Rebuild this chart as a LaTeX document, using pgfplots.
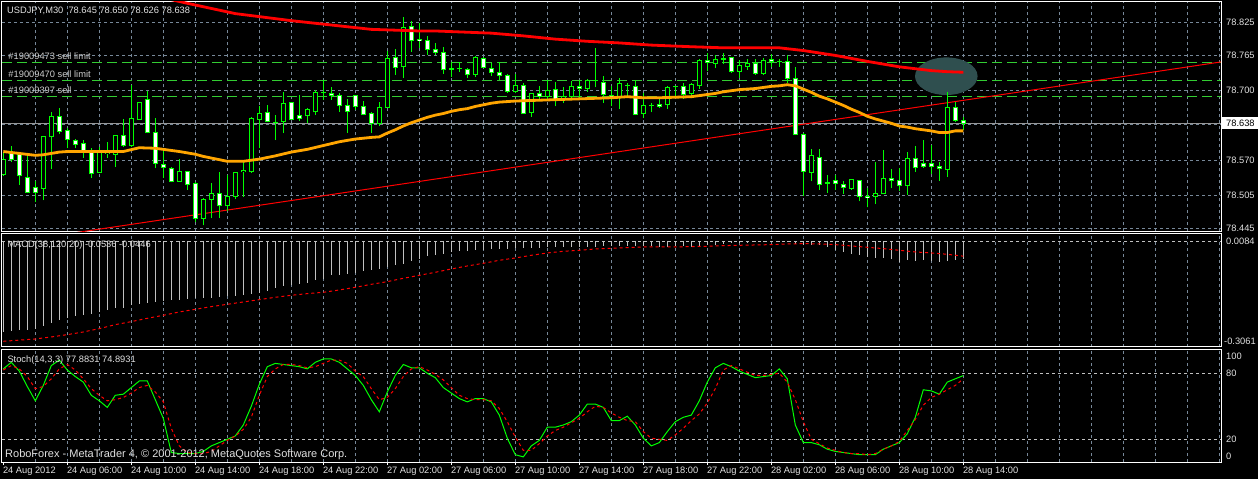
\documentclass[border=0pt]{standalone}
\usepackage{fontspec}
\setmainfont{Liberation Sans}
\usepackage{pgfplots}
\pgfplotsset{compat=1.18}
\usepackage{pgfplotstable}

\definecolor{gridc}{RGB}{119,136,153}
\definecolor{cgreen}{RGB}{0,255,0}
\definecolor{ordgreen}{RGB}{50,205,50}
\definecolor{maor}{RGB}{255,165,0}
\definecolor{histc}{RGB}{192,192,192}
\definecolor{ellc}{RGB}{47,79,79}
\definecolor{levelc}{RGB}{192,192,192}
\definecolor{curc}{RGB}{150,150,150}
\definecolor{txtc}{RGB}{225,225,225}
\definecolor{ordtxt}{RGB}{205,205,205}

\newcommand{\mtf}{\fontsize{9.3pt}{11pt}\selectfont}

\pgfplotstableread{
i o h l c
0 78.544 78.587 78.542 78.573
1 78.584 78.597 78.568 78.573
2 78.582 78.584 78.525 78.542
3 78.539 78.581 78.511 78.512
4 78.521 78.532 78.494 78.512
5 78.519 78.616 78.497 78.614
6 78.614 78.659 78.554 78.652
7 78.652 78.668 78.619 78.624
8 78.625 78.630 78.593 78.610
9 78.608 78.610 78.593 78.600
10 78.602 78.608 78.576 78.587
11 78.587 78.593 78.538 78.547
12 78.548 78.596 78.547 78.587
13 78.584 78.604 78.576 78.586
14 78.582 78.618 78.559 78.616
15 78.617 78.647 78.596 78.598
16 78.598 78.710 78.596 78.647
17 78.646 78.679 78.645 78.678
18 78.683 78.699 78.621 78.622
19 78.622 78.648 78.556 78.565
20 78.563 78.593 78.538 78.558
21 78.556 78.559 78.530 78.532
22 78.532 78.573 78.531 78.551
23 78.551 78.552 78.517 78.527
24 78.529 78.530 78.458 78.464
25 78.464 78.501 78.451 78.499
26 78.499 78.529 78.464 78.510
27 78.510 78.549 78.464 78.487
28 78.487 78.544 78.478 78.505
29 78.505 78.550 78.499 78.549
30 78.550 78.568 78.504 78.552
31 78.550 78.650 78.548 78.648
32 78.646 78.671 78.593 78.657
33 78.659 78.673 78.641 78.642
34 78.641 78.654 78.608 78.640
35 78.642 78.696 78.621 78.676
36 78.678 78.679 78.645 78.646
37 78.654 78.691 78.644 78.648
38 78.653 78.667 78.640 78.664
39 78.660 78.700 78.654 78.696
40 78.695 78.719 78.682 78.696
41 78.694 78.705 78.682 78.690
42 78.690 78.694 78.660 78.672
43 78.672 78.683 78.622 78.661
44 78.690 78.692 78.664 78.670
45 78.670 78.680 78.654 78.655
46 78.657 78.659 78.621 78.639
47 78.638 78.678 78.634 78.668
48 78.668 78.773 78.668 78.759
49 78.761 78.775 78.728 78.742
50 78.743 78.834 78.723 78.816
51 78.817 78.828 78.771 78.792
52 78.794 78.824 78.777 78.792
53 78.791 78.800 78.765 78.775
54 78.775 78.786 78.765 78.770
55 78.770 78.780 78.730 78.738
56 78.740 78.751 78.725 78.738
57 78.739 78.751 78.734 78.739
58 78.738 78.740 78.722 78.728
59 78.729 78.763 78.725 78.761
60 78.758 78.761 78.740 78.742
61 78.740 78.750 78.726 78.733
62 78.733 78.751 78.719 78.727
63 78.727 78.730 78.695 78.698
64 78.697 78.730 78.695 78.709
65 78.708 78.713 78.656 78.657
66 78.659 78.695 78.651 78.694
67 78.694 78.708 78.684 78.689
68 78.688 78.719 78.684 78.700
69 78.701 78.715 78.670 78.683
70 78.683 78.705 78.676 78.688
71 78.688 78.716 78.684 78.707
72 78.707 78.719 78.683 78.703
73 78.703 78.720 78.697 78.718
74 78.718 78.777 78.705 78.717
75 78.715 78.727 78.677 78.692
76 78.691 78.708 78.670 78.687
77 78.688 78.722 78.665 78.713
78 78.708 78.714 78.688 78.709
79 78.707 78.718 78.654 78.655
80 78.657 78.694 78.648 78.671
81 78.671 78.677 78.659 78.672
82 78.674 78.684 78.668 78.670
83 78.673 78.708 78.666 78.705
84 78.706 78.708 78.688 78.707
85 78.707 78.714 78.684 78.692
86 78.694 78.713 78.685 78.711
87 78.708 78.757 78.703 78.754
88 78.755 78.768 78.735 78.751
89 78.750 78.765 78.740 78.757
90 78.757 78.768 78.748 78.759
91 78.761 78.762 78.732 78.735
92 78.735 78.756 78.722 78.745
93 78.743 78.757 78.738 78.750
94 78.750 78.757 78.728 78.731
95 78.731 78.760 78.728 78.755
96 78.757 78.766 78.743 78.753
97 78.753 78.757 78.743 78.753
98 78.753 78.765 78.713 78.721
99 78.721 78.742 78.619 78.619
100 78.619 78.621 78.505 78.550
101 78.549 78.592 78.532 78.579
102 78.576 78.592 78.517 78.527
103 78.530 78.544 78.511 78.529
104 78.533 78.543 78.516 78.529
105 78.527 78.532 78.509 78.521
106 78.519 78.536 78.517 78.535
107 78.534 78.535 78.495 78.504
108 78.505 78.519 78.484 78.503
109 78.504 78.567 78.490 78.509
110 78.509 78.590 78.508 78.537
111 78.538 78.555 78.519 78.533
112 78.533 78.557 78.515 78.524
113 78.524 78.586 78.507 78.575
114 78.575 78.597 78.550 78.557
115 78.565 78.608 78.557 78.559
116 78.565 78.599 78.546 78.559
117 78.560 78.567 78.533 78.555
118 78.554 78.697 78.541 78.668
119 78.668 78.679 78.642 78.644
120 78.645 78.650 78.626 78.638
}\candles

\pgfplotstableread{
i v
0 78.587
4 78.580
5 78.581
7 78.586
8 78.587
12 78.587
15 78.587
17 78.594
19 78.593
20 78.591
22 78.587
24 78.582
25 78.578
28 78.569
30 78.569
32 78.573
34 78.579
36 78.586
38 78.591
40 78.598
42 78.605
44 78.610
46 78.613
47 78.614
48 78.621
49 78.627
50 78.634
51 78.640
52 78.645
53 78.650
54 78.654
55 78.657
56 78.661
57 78.664
58 78.666
59 78.670
60 78.673
61 78.676
62 78.678
64 78.680
66 78.681
68 78.682
70 78.683
72 78.684
74 78.685
76 78.686
78 78.688
80 78.686
82 78.686
84 78.687
86 78.688
87 78.690
88 78.692
89 78.694
90 78.697
91 78.699
92 78.701
94 78.703
96 78.707
97 78.708
98 78.710
99 78.708
100 78.702
101 78.696
102 78.689
103 78.684
104 78.678
105 78.672
106 78.665
107 78.659
108 78.652
109 78.647
110 78.643
111 78.639
112 78.634
113 78.632
114 78.629
115 78.627
116 78.625
117 78.622
118 78.622
119 78.625
120 78.625
}\maorange

\pgfplotstableread{
i v
20 78.870
23 78.860
29 78.841
36 78.828
41 78.820
46 78.812
52 78.809
54 78.809
61 78.805
65 78.800
69 78.794
73 78.790
77 78.787
81 78.783
86 78.780
90 78.778
97 78.778
100 78.773
104 78.764
108 78.753
112 78.743
116 78.736
118 78.734
120 78.733
}\mared

\pgfplotstableread{
i h
0 -0.272
1 -0.269
2 -0.267
3 -0.265
4 -0.262
5 -0.255
6 -0.244
7 -0.237
8 -0.230
9 -0.225
10 -0.222
11 -0.217
12 -0.212
13 -0.207
14 -0.200
15 -0.200
16 -0.192
17 -0.187
18 -0.184
19 -0.182
20 -0.179
21 -0.177
22 -0.175
23 -0.172
24 -0.171
25 -0.169
26 -0.169
27 -0.167
28 -0.164
29 -0.164
30 -0.162
31 -0.157
32 -0.154
33 -0.149
34 -0.139
35 -0.135
36 -0.132
37 -0.127
38 -0.124
39 -0.115
40 -0.112
41 -0.102
42 -0.100
43 -0.097
44 -0.094
45 -0.090
46 -0.087
47 -0.082
48 -0.077
49 -0.072
50 -0.067
51 -0.060
52 -0.052
53 -0.044
54 -0.042
55 -0.037
56 -0.032
57 -0.030
58 -0.030
59 -0.026
60 -0.025
61 -0.024
62 -0.023
63 -0.022
64 -0.021
65 -0.020
66 -0.020
67 -0.019
68 -0.018
69 -0.017
70 -0.017
71 -0.018
72 -0.017
73 -0.016
74 -0.016
75 -0.015
76 -0.015
77 -0.015
78 -0.015
79 -0.015
80 -0.015
81 -0.015
82 -0.017
83 -0.017
84 -0.015
85 -0.015
86 -0.017
87 -0.015
88 -0.012
89 -0.010
90 -0.008
91 -0.006
92 -0.005
93 -0.004
94 -0.003
95 -0.003
96 -0.002
97 -0.002
98 -0.003
99 -0.007
100 -0.010
101 -0.010
102 -0.012
103 -0.017
104 -0.027
105 -0.032
106 -0.037
107 -0.040
108 -0.047
109 -0.050
110 -0.050
111 -0.052
112 -0.062
113 -0.057
114 -0.060
115 -0.057
116 -0.060
117 -0.062
118 -0.060
119 -0.057
120 -0.0536
}\macd

\pgfplotstableread{
i s
0 -0.300
4 -0.293
6 -0.287
8 -0.280
10 -0.272
12 -0.262
14 -0.250
16 -0.241
18 -0.231
20 -0.222
22 -0.212
24 -0.204
26 -0.196
28 -0.189
30 -0.182
32 -0.175
34 -0.168
36 -0.162
38 -0.157
40 -0.153
42 -0.146
44 -0.138
46 -0.129
48 -0.121
50 -0.111
52 -0.102
54 -0.093
56 -0.083
58 -0.074
60 -0.066
62 -0.057
64 -0.050
66 -0.042
68 -0.035
70 -0.030
72 -0.027
74 -0.023
76 -0.021
78 -0.019
80 -0.017
82 -0.017
84 -0.017
86 -0.016
88 -0.015
90 -0.013
92 -0.012
94 -0.011
96 -0.010
98 -0.008
100 -0.007
102 -0.008
104 -0.010
106 -0.014
108 -0.018
110 -0.022
112 -0.027
114 -0.032
116 -0.035
118 -0.039
120 -0.0446
}\signal

\pgfplotstableread{
i k d
0 84 83
1 90 87
2 82 84
3 68 77
4 55 66
5 69 68
6 87 75
7 92 84
8 83 88
9 77 83
10 72 75
11 60 66
12 55 60
13 49 55
14 60 56
15 61 58
16 67 62
17 73 67
18 73 69
19 56 63
20 39 54
21 8 30
22 7 14
23 7 8
24 7 7
25 9 7
26 14 9
27 17 14
28 20 19
29 23 23
30 33 29
31 50 40
32 70 60
33 86 77
34 89 84
35 88 88
36 87 88
37 86 87
38 84 85
39 90 86
40 93 89
41 93 92
42 90 92
43 84 89
44 78 82
45 69 77
46 56 66
47 45 56
48 63 58
49 78 66
50 88 77
51 85 84
52 85 86
53 80 83
54 76 79
55 67 74
56 62 67
57 57 60
58 54 57
59 57 56
60 57 56
61 54 55
62 42 48
63 21 36
64 6 22
65 4 10
66 14 10
67 19 16
68 31 23
69 31 28
70 33 31
71 36 35
72 42 39
73 52 45
74 52 50
75 49 49
76 37 44
77 37 40
78 41 37
79 33 36
80 21 27
81 14 21
82 17 20
83 27 19
84 36 24
85 40 30
86 42 37
87 55 43
88 72 53
89 85 66
90 89 83
91 86 87
92 82 84
93 79 81
94 76 78
95 77 78
96 78 79
97 84 80
98 75 72
99 33 56
100 17 36
101 17 20
102 15 16
103 11 12
104 9 10
105 8 8
106 7 7
107 6 7
108 6 6
109 6 7
110 11 11
111 14 14
112 17 18
113 25 28
114 40 38
115 65 51
116 64 58
117 61 61
118 72 65
119 75 69
120 77.88 74.89
}\stoch

\pgfplotsset{
  mtaxis/.style={
    scale only axis, width=1219pt, anchor=south west,
    xmin=-0.1625, xmax=152.2125,
    axis line style={white, line width=1pt},
    xtick={4,8,...,152}, xticklabels={}, yticklabels={},
    xtick style={draw=none}, ytick style={draw=none},
    xmajorgrids,
    major x grid style={draw=gridc, line width=1pt, dash pattern=on 3pt off 3pt},
  }
}

\begin{document}
\begin{tikzpicture}
\path[use as bounding box] (0pt,0pt) rectangle (1258pt,479pt);
\fill[black] (0pt,0pt) rectangle (1258pt,479pt);

% ---------------- main price panel ----------------
\begin{axis}[mtaxis, at={(2pt,247.5pt)}, height=229.5pt,
  ymin=78.43973, ymax=78.86238,
  ytick={78.4449,78.5064,78.5709,78.6372,78.6998,78.7642,78.825},
  ymajorgrids,
  major y grid style={draw=gridc, line width=1pt, dash pattern=on 3pt off 3pt}]
  % pending order levels
  \addplot[ordgreen, line width=1pt, dash pattern=on 10pt off 5pt, forget plot] coordinates {(-0.1625,78.7513) (152.2125,78.7513)};
  \addplot[ordgreen, line width=1pt, dash pattern=on 10pt off 5pt, forget plot] coordinates {(-0.1625,78.7182) (152.2125,78.7182)};
  \addplot[ordgreen, line width=1pt, dash pattern=on 10pt off 5pt, forget plot] coordinates {(-0.1625,78.6887) (152.2125,78.6887)};
  % current price line
  \addplot[curc, line width=1pt, forget plot] coordinates {(-0.1625,78.638) (152.2125,78.638)};
  % ellipse highlight
  \fill[ellc] (axis cs:117.875,78.7257) ellipse [x radius=31.3pt, y radius=18.8pt];
  % trend line
  \addplot[red, line width=1pt, forget plot] coordinates {(0,78.4177) (152.2125,78.7520)};
  % wicks
  \addplot[draw=none, mark=none, forget plot,
    error bars/.cd, y dir=plus, y explicit, error mark=none,
    error bar style={draw=cgreen, line width=1pt}]
    table[x=i, y=l, y error expr=\thisrow{h}-\thisrow{l}] {\candles};
  % body outlines
  \addplot[draw=none, mark=none, forget plot,
    error bars/.cd, y dir=plus, y explicit, error mark=none,
    error bar style={draw=cgreen, line width=5pt}]
    table[x=i, y expr={min(\thisrow{o},\thisrow{c})-0.00092}, y error expr={abs(\thisrow{o}-\thisrow{c})+0.00184}] {\candles};
  % bear bodies (white)
  \addplot[draw=none, mark=none, forget plot,
    restrict expr to domain={\thisrow{o}-\thisrow{c}}{0.002:1},
    error bars/.cd, y dir=plus, y explicit, error mark=none,
    error bar style={draw=white, line width=3pt}]
    table[x=i, y expr={\thisrow{c}+0.00092}, y error expr={\thisrow{o}-\thisrow{c}-0.00184}] {\candles};
  % bull bodies (black)
  \addplot[draw=none, mark=none, forget plot,
    restrict expr to domain={\thisrow{c}-\thisrow{o}}{0.002:1},
    error bars/.cd, y dir=plus, y explicit, error mark=none,
    error bar style={draw=black, line width=3pt}]
    table[x=i, y expr={\thisrow{o}+0.00092}, y error expr={\thisrow{c}-\thisrow{o}-0.00184}] {\candles};
  % moving averages
  \addplot[maor, line width=2.8pt, forget plot] table[x=i, y=v] {\maorange};
  \addplot[red, line width=2.8pt, forget plot] table[x=i, y=v] {\mared};
\end{axis}

% ---------------- MACD panel ----------------
\begin{axis}[mtaxis, at={(2pt,132pt)}, height=113.7pt,
  ymin=-0.3171, ymax=0.024, ytick={0}, ymajorgrids,
  major y grid style={draw=levelc, line width=1pt, dash pattern=on 3pt off 3pt}]
  \addplot[ycomb, draw=histc, line width=1pt, mark=none, forget plot] table[x=i, y=h] {\macd};
  \addplot[red, line width=1pt, dash pattern=on 3pt off 3pt, mark=none, forget plot] table[x=i, y=s] {\signal};
\end{axis}

% ---------------- Stochastic panel ----------------
\begin{axis}[mtaxis, at={(2pt,17pt)}, height=112.7pt,
  ymin=-0.64, ymax=101.8, ytick={20,80}, ymajorgrids,
  major y grid style={draw=levelc, line width=1pt, dash pattern=on 3pt off 3pt}]
  \addplot[cgreen, line width=1pt, mark=none, forget plot] table[x=i, y=k] {\stoch};
  \addplot[red, line width=1pt, dash pattern=on 3pt off 3pt, mark=none, forget plot] table[x=i, y=d] {\stoch};
\end{axis}

% ---------------- texts ----------------
\node[anchor=base west, inner sep=0pt, text=txtc, font=\mtf] at (7pt,465pt) {USDJPY,M30\ \ 78.645 78.650 78.626 78.638};
\node[anchor=base west, inner sep=0pt, text=ordtxt, font=\mtf] at (8.3pt,419pt) {\#19009473 sell limit};
\node[anchor=base west, inner sep=0pt, text=ordtxt, font=\mtf] at (8.3pt,401.3pt) {\#19009470 sell limit};
\node[anchor=base west, inner sep=0pt, text=ordtxt, font=\mtf] at (8.3pt,385pt) {\#19009397 sell};
\node[anchor=base west, inner sep=0pt, text=txtc, font=\mtf] at (7.3pt,231.7pt) {MACD(38,120,20) -0.0536 -0.0446};
\node[anchor=base west, inner sep=0pt, text=txtc, font=\mtf] at (7.3pt,116pt) {Stoch(14,3,3) 77.8831 74.8931};
\node[anchor=base west, inner sep=0pt, text=txtc, font=\fontsize{11pt}{13pt}\selectfont] at (5pt,21pt) {RoboForex - MetaTrader 4, © 2001-2012, MetaQuotes Software Corp.};

% right scale labels
\foreach \yy/\lab in {453.4/78.825, 420.4/78.765, 385.4/78.700, 315.4/78.570, 280.4/78.505, 247/78.445,
  234.5/0.0084, 119.5/100, 102/80, 36.5/20, 19.5/0}{
  \node[anchor=base west, inner sep=0pt, text=txtc, font=\mtf] at (1226pt,\yy pt) {\lab};
}
\node[anchor=base west, inner sep=0pt, text=txtc, font=\mtf] at (1224pt,134.5pt) {-0.3061};
\fill[white] (1222pt,350pt) rectangle (1258pt,362pt);
\node[anchor=base west, inner sep=0pt, text=black, font=\mtf] at (1226pt,352.3pt) {78.638};

% bottom time labels
\foreach \i/\lab in {0/24 Aug 2012, 8/24 Aug 06:00, 16/24 Aug 10:00, 24/24 Aug 14:00, 32/24 Aug 18:00,
  40/24 Aug 22:00, 48/27 Aug 02:00, 56/27 Aug 06:00, 64/27 Aug 10:00, 72/27 Aug 14:00,
  80/27 Aug 18:00, 88/27 Aug 22:00, 96/28 Aug 02:00, 104/28 Aug 06:00, 112/28 Aug 10:00, 120/28 Aug 14:00}{
  \draw[white, line width=1pt] ({3.3pt+8pt*\i},17pt) -- ++(0pt,-3pt);
  \node[anchor=base west, inner sep=0pt, text=txtc, font=\mtf] at ({2.8pt+8pt*\i},5pt) {\lab};
}
\end{tikzpicture}
\end{document}
